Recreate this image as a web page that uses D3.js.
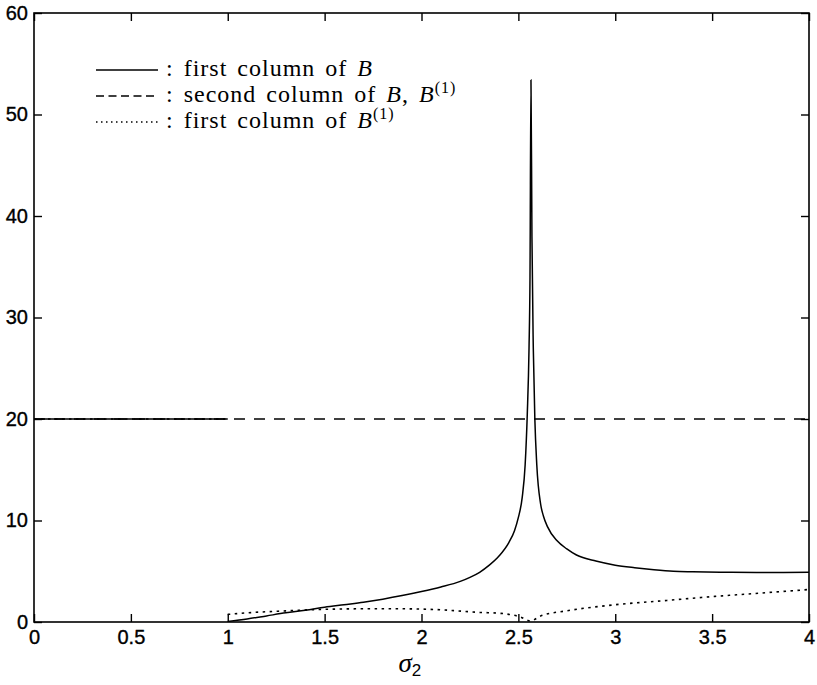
<!DOCTYPE html>
<html>
<head>
<meta charset="utf-8">
<script src="https://cdn.jsdelivr.net/npm/d3@7"></script>
<style>
  body { margin: 0; background: #fff; }
  .tick text { font-family: "Liberation Sans", Arial, sans-serif; font-size: 20px; fill: #000; stroke: #000; stroke-width: 0.35px; }
  .legend text { font-family: "Liberation Serif", "Times New Roman", serif; font-size: 24px; fill: #000; letter-spacing: 1px; word-spacing: 3px; }
</style>
</head>
<body>
<div id="chart"></div>
<script>
// ticks
var xTicks = [0, 0.5, 1, 1.5, 2, 2.5, 3, 3.5, 4];
var yTicks = [0, 10, 20, 30, 40, 50, 60];

// second column of B, B^(1): flat at 20
var secondSigma = [0, 4];
var secondVals = [20, 20];

// first column of B (NaN = break at sigma = 1)
var firstBSigma = [0, 1, NaN,
  1.0, 1.1, 1.2, 1.3, 1.4, 1.5, 1.6, 1.7, 1.8, 1.9, 2.0, 2.1, 2.2, 2.25, 2.3, 2.35, 2.4, 2.45, 2.48,
  2.5, 2.52, 2.535, 2.546, 2.555, 2.56, 2.565, 2.57, 2.577, 2.585, 2.595, 2.615, 2.63, 2.65,
  2.7, 2.75, 2.8, 2.9, 3.0, 3.1, 3.2, 3.3, 3.4, 3.6, 3.8, 4.0];
var firstBVals = [20, 20, NaN,
  0.05, 0.3, 0.6, 0.9, 1.15, 1.45, 1.7, 1.95, 2.25, 2.6, 3.0, 3.45, 4.0, 4.4, 4.9, 5.6, 6.5, 7.8, 9.0,
  10.3, 12.3, 15.5, 20.5, 27, 34, 53.4, 38, 27, 20, 15.5, 11.6, 10.4, 9.4,
  8.0, 7.2, 6.6, 6.0, 5.6, 5.35, 5.15, 5.0, 4.95, 4.9, 4.88, 4.9];

// first column of B^(1)
var firstB1Sigma = [0, 1, NaN,
  1.0, 1.1, 1.3, 1.5, 1.7, 1.9, 2.1, 2.3, 2.41, 2.51, 2.563,
  2.615, 2.75, 3.0, 3.25, 3.5, 3.75, 4.0];
var firstB1Vals = [20, 20, NaN,
  0.75, 0.9, 1.1, 1.25, 1.3, 1.3, 1.2, 0.95, 0.85, 0.5, 0.1,
  0.6, 1.1, 1.7, 2.1, 2.5, 2.85, 3.2];

var svgWidth = 817, svgHeight = 685;
var margin = {top: 13, right: 8, bottom: 63, left: 34};
var width = svgWidth - margin.left - margin.right;
var height = svgHeight - margin.top - margin.bottom;

var svg = d3.select("#chart").append("svg")
  .attr("width", svgWidth)
  .attr("height", svgHeight);

var g = svg.append("g")
  .attr("transform", `translate(${margin.left}, ${margin.top})`);

var x = d3.scaleLinear().domain([0, 4]).range([0, width]);
var y = d3.scaleLinear().domain([0, 60]).range([height, 0]);

g.append("clipPath").attr("id", "clip")
  .append("rect").attr("width", width).attr("height", height);

// axes with inward ticks on all four sides
function styleAxis(sel) {
  sel.select(".domain").remove();
  sel.selectAll(".tick line").attr("stroke", "#000").attr("stroke-width", 1.4);
}
g.append("g").attr("transform", `translate(0, ${height})`)
  .call(d3.axisBottom(x).tickValues(xTicks).tickSize(-8).tickPadding(8).tickFormat(d3.format("")))
  .call(styleAxis);
g.append("g")
  .call(d3.axisTop(x).tickValues(xTicks).tickSize(-8).tickFormat(""))
  .call(styleAxis);
g.append("g")
  .call(d3.axisLeft(y).tickValues(yTicks).tickSize(-8).tickPadding(6))
  .call(styleAxis);
g.append("g").attr("transform", `translate(${width}, 0)`)
  .call(d3.axisRight(y).tickValues(yTicks).tickSize(-8).tickFormat(""))
  .call(styleAxis);
g.selectAll(".tick text").attr("fill", "#000");

g.append("rect")
  .attr("width", width).attr("height", height)
  .attr("fill", "none").attr("stroke", "#000").attr("stroke-width", 1.6);

// curves
var line = d3.line()
  .defined(d => !isNaN(d[0]) && !isNaN(d[1]))
  .curve(d3.curveMonotoneX)
  .x(d => x(d[0]))
  .y(d => y(d[1]));

var plot = g.append("g").attr("clip-path", "url(#clip)");

plot.append("path")
  .datum(d3.zip(secondSigma, secondVals))
  .attr("d", line).attr("fill", "none").attr("stroke", "#000")
  .attr("stroke-width", 1.5).attr("stroke-dasharray", "11,9");

plot.append("path")
  .datum(d3.zip(firstBSigma, firstBVals))
  .attr("d", line).attr("fill", "none").attr("stroke", "#000")
  .attr("stroke-width", 1.5);

plot.append("path")
  .datum(d3.zip(firstB1Sigma, firstB1Vals))
  .attr("d", line).attr("fill", "none").attr("stroke", "#000")
  .attr("stroke-width", 1.6).attr("stroke-dasharray", "2.5,4.5");

// legend
var legend = svg.append("g").attr("class", "legend");
var rowY = [70, 96, 122];
var rowDash = [null, "8,4.5", "1.5,3.5"];
rowY.forEach(function(ry, i) {
  legend.append("line")
    .attr("x1", 96).attr("x2", 158).attr("y1", ry).attr("y2", ry)
    .attr("stroke", "#000").attr("stroke-width", 1.4)
    .attr("stroke-dasharray", rowDash[i]);
});
var t1 = legend.append("text").attr("x", 166).attr("y", rowY[0] + 6);
t1.append("tspan").text(": first column of ");
t1.append("tspan").attr("font-style", "italic").text("B");

var t2 = legend.append("text").attr("x", 166).attr("y", rowY[1] + 6);
t2.append("tspan").text(": second column of ");
t2.append("tspan").attr("font-style", "italic").text("B");
t2.append("tspan").text(", ");
t2.append("tspan").attr("font-style", "italic").text("B");
t2.append("tspan").attr("font-size", "16px").attr("dy", -9).text("(1)");

var t3 = legend.append("text").attr("x", 166).attr("y", rowY[2] + 6);
t3.append("tspan").text(": first column of ");
t3.append("tspan").attr("font-style", "italic").text("B");
t3.append("tspan").attr("font-size", "16px").attr("dy", -9).text("(1)");

// x label
var xl = svg.append("text")
  .attr("x", margin.left + x(2) - 23).attr("y", 672);
xl.append("tspan").attr("font-family", "Liberation Serif, serif").attr("font-style", "italic")
  .attr("font-size", "27px").text("σ");
xl.append("tspan").attr("font-family", "Liberation Sans, Arial, sans-serif")
  .attr("font-size", "17px").attr("dy", 4).text("2");
</script>
</body>
</html>
